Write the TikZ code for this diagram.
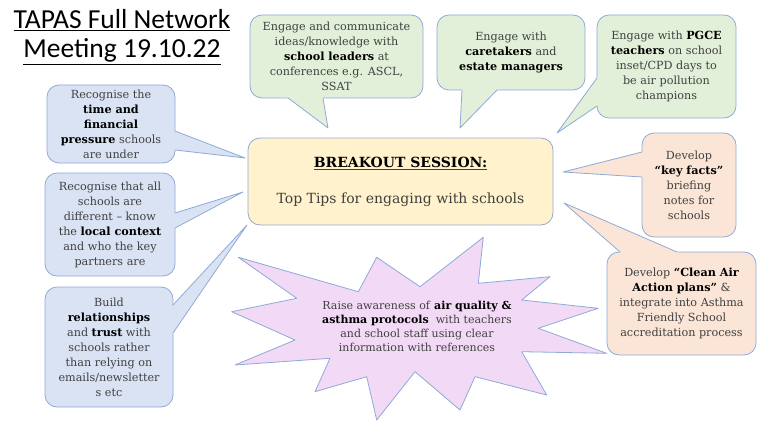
\documentclass[tikz,border=0pt]{standalone}
\usepackage{fontspec}
\setmainfont{DejaVu Serif}
\newfontfamily\titlefont{Carlito}
\usetikzlibrary{calc}

\definecolor{tapas_edge}{RGB}{143, 170, 215}
\definecolor{tapas_green}{RGB}{226, 239, 217}
\definecolor{tapas_blue}{RGB}{218, 227, 243}
\definecolor{tapas_peach}{RGB}{251, 229, 214}
\definecolor{tapas_sun}{RGB}{255, 242, 204}
\definecolor{tapas_lilac}{RGB}{242, 217, 245}
\definecolor{tapas_ink}{RGB}{64, 64, 64}

\newcommand{\key}[1]{\textbf{\color{black}#1}}
% wedge from a box edge (#2, #4) out to its tip (#3)
\newcommand{\pointer}[4]{%
  \fill[#1] #3 -- ($#3!1.12!#2$) -- ($#3!1.12!#4$) -- cycle;
  \draw[edge] #2 -- #3 -- #4;}

\begin{document}
\begin{tikzpicture}[
    x=1pt, y=-1pt,
    bubble/.style={draw=tapas_edge, line width=0.8pt, rounded corners=12pt,
                   inner sep=0pt, align=center, text=tapas_ink,
                   font=\fontsize{11.2}{15}\selectfont},
    edge/.style={draw=tapas_edge, line width=0.8pt, line join=round},
  ]
  \useasboundingbox (0,0) rectangle (757,425);

  \node[font=\titlefont\fontsize{27.5}{29}\selectfont, align=center] (title)
    at (122,37) {\underline{TAPAS Full Network}\\\underline{Meeting 19.10.22}};

  % top row
  \node[bubble, fill=tapas_green, minimum width=173pt, minimum height=83pt]
    (leaders) at (336.5,56.5)
    {Engage and communicate\\ideas/knowledge with\\\key{school leaders} at\\
     conferences e.g. ASCL,\\SSAT};
  \node[bubble, fill=tapas_green, minimum width=148pt, minimum height=75pt]
    (caretakers) at (511,52.5)
    {Engage with\\\key{caretakers} and\\\key{estate managers}};
  \node[bubble, fill=tapas_green, minimum width=139pt, minimum height=103pt]
    (pgce) at (666.5,66.5)
    {Engage with \key{PGCE}\\\key{teachers} on school\\inset/CPD days to\\
     be air pollution\\champions};

  % left column
  \node[bubble, fill=tapas_blue, minimum width=128pt, minimum height=78pt]
    (pressure) at (111,124)
    {Recognise the\\\key{time and}\\\key{financial}\\\key{pressure} schools\\are under};
  \node[bubble, fill=tapas_blue, minimum width=130pt, minimum height=103pt]
    (context) at (110,224.5)
    {Recognise that all\\schools are\\different -- know\\the \key{local context}\\
     and who the key\\partners are};
  \node[bubble, fill=tapas_blue, minimum width=128pt, minimum height=120pt]
    (trust) at (109,347)
    {Build\\\key{relationships}\\and \key{trust} with\\schools rather\\
     than relying on\\emails/newsletter\\s etc};

  % right column
  \node[bubble, fill=tapas_peach, minimum width=94pt, minimum height=104pt]
    (keyfacts) at (689,185)
    {Develop\\\key{``key facts''}\\briefing\\notes for\\schools};
  \node[bubble, fill=tapas_peach, minimum width=149pt, minimum height=103pt]
    (cleanair) at (681.5,303.5)
    {Develop \key{``Clean Air}\\\key{Action plans''} \&\\integrate into Asthma\\
     Friendly School\\accreditation process};

  % centre
  \node[bubble, fill=tapas_sun, minimum width=305pt, minimum height=87pt,
        font=\fontsize{14}{18}\selectfont] (session) at (400.5,181.5)
    {\underline{\key{BREAKOUT SESSION:}}\\[18pt]Top Tips for engaging with schools};

  \pointer{tapas_green}{(288,98)}{(328,128)}{(323,98)}
  \pointer{tapas_green}{(462,90)}{(460,128)}{(497,90)}
  \pointer{tapas_green}{(597,78)}{(557,133)}{(597,106)}
  \pointer{tapas_blue}{(175,131)}{(245,158)}{(175,150)}
  \pointer{tapas_blue}{(175,213)}{(243,192)}{(175,228)}
  \pointer{tapas_blue}{(173,305)}{(247,225)}{(173,333)}
  \pointer{tapas_peach}{(642,152)}{(563,172)}{(642,177)}
  \pointer{tapas_peach}{(620,252)}{(564,203)}{(677,252)}

  % the burst
  \filldraw[edge, fill=tapas_lilac]
    (238.3,257.3) -- (358.3,291.7) -- (376.7,257.3) -- (420,286.7)
    -- (483.3,237.3) -- (478.3,283.3) -- (550,276.7) -- (521.7,300)
    -- (598.3,308.3) -- (538.3,328.3) -- (606.7,353.3) -- (521.7,351.7)
    -- (546.7,395) -- (475,376.7) -- (460,410) -- (415,371.7)
    -- (376.7,420) -- (366.7,376.7) -- (315,391.7) -- (330,358.3)
    -- (235,365) -- (295,340) -- (231.7,311.7) -- (296.7,298.3) -- cycle;
  \node[align=center, text=tapas_ink, font=\fontsize{11}{14}\selectfont]
    (awareness) at (417,326)
    {Raise awareness of \key{air quality \&}\\\key{asthma protocols}\ \ with teachers\\
     and school staff using clear\\information with references};
\end{tikzpicture}
\end{document}
